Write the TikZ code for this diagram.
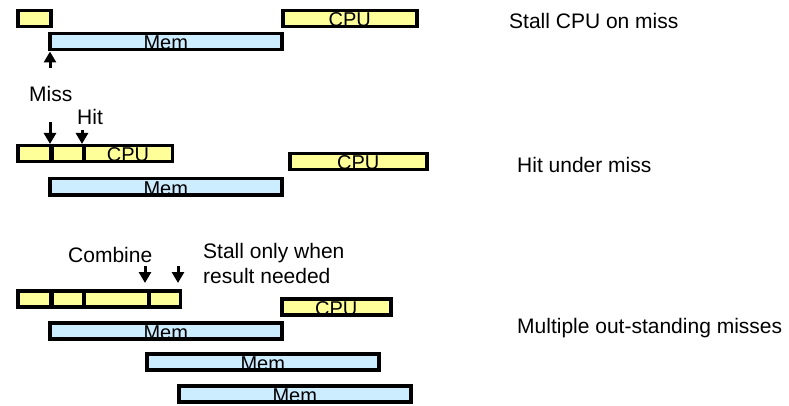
\documentclass[tikz,border=0pt]{standalone}
\usepackage{fontspec}
\setmainfont{Liberation Sans}
\usetikzlibrary{arrows.meta}
\definecolor{cpuyellow}{HTML}{FFFF99}
\definecolor{memblue}{HTML}{CCECFF}
\tikzset{
  seg/.style={draw=black, line width=3.5pt, inner sep=0pt, anchor=north west,
              minimum height=16pt},
  cpu/.style={seg, fill=cpuyellow},
  mem/.style={seg, fill=memblue},
  boxtext/.style={anchor=base, inner sep=0pt, font=\fontsize{20}{24}\selectfont},
  note/.style={anchor=base west, inner sep=0pt, font=\fontsize{21}{25}\selectfont, align=left},
  arr/.style={line width=3pt, -{Triangle[length=11pt,width=12pt]}}
}
\begin{document}
\begin{tikzpicture}[x=1pt, y=-1pt]
\useasboundingbox (0,0) rectangle (789,406);

% ---- Stall CPU on miss ----
\node[cpu, minimum width=33pt] (ya) at (16,9) {};
\node[cpu, minimum width=134pt] (yb) at (281,9) {};
\node[boxtext] (ybt) at ([yshift=1.5pt]yb.south) {CPU};
\node[mem, minimum width=232pt] (ma) at (48,32) {};
\node[boxtext] (mat) at ([yshift=1.5pt]ma.south) {Mem};
\coordinate (upa) at (50,68);
\draw[arr] (upa) -- (upa |- ma.south);
\node[note] (l1) at (509,29) {Stall CPU on miss};

% ---- Hit under miss ----
\node[cpu, minimum width=32.5pt] (ha) at (16,144) {};
\node[cpu, minimum width=32pt] (hb) at (50,144) {};
\node[cpu, minimum width=88.5pt] (hc) at (82,144) {};
\node[boxtext] (hct) at ([yshift=1.5pt]hc.south) {CPU};
\node[cpu, minimum width=137pt] (hd) at (288,152) {};
\node[boxtext] (hdt) at ([yshift=1.5pt]hd.south) {CPU};
\node[mem, minimum width=232pt] (mb) at (48,177) {};
\node[boxtext] (mbt) at ([yshift=1.5pt]mb.south) {Mem};
\node[note] (miss) at (29,102) {Miss};
\node[note] (hit) at (77,125) {Hit};
\coordinate (missa) at (50,122);
\coordinate (hita) at (82,130);
\draw[arr] (missa) -- (missa |- ha.north);
\draw[arr] (hita) -- (hita |- hc.north);
\node[note] (l2) at (517,173) {Hit under miss};

% ---- Multiple out-standing misses ----
\node[cpu, minimum width=32.5pt] (ca) at (16,289) {};
\node[cpu, minimum width=32pt] (cb) at (50,289) {};
\node[cpu, minimum width=65pt] (cc) at (82,289) {};
\node[cpu, minimum width=31.5pt] (cd) at (147,289) {};
\node[cpu, minimum width=109pt] (ce) at (280,297) {};
\node[boxtext] (cet) at ([yshift=1.5pt]ce.south) {CPU};
\node[mem, minimum width=232pt] (mc) at (48,321) {};
\node[boxtext] (mct) at ([yshift=1.5pt]mc.south) {Mem};
\node[mem, minimum width=232pt] (md) at (145,352) {};
\node[boxtext] (mdt) at ([yshift=1.5pt]md.south) {Mem};
\node[mem, minimum width=232pt] (me) at (177,384) {};
\node[boxtext] (met) at ([yshift=1.5pt]me.south) {Mem};
\node[note] (comb) at (68,262) {Combine};
\node[note] (stall) at (203,283) {Stall only when\\result needed};
\coordinate (ca1) at (145,266);
\coordinate (ca2) at (178,266);
\coordinate (cb1) at (145,283);
\coordinate (cb2) at (178,283);
\draw[arr] (ca1) -- (cb1);
\draw[arr] (ca2) -- (cb2);
\node[note] (l3) at (517,333) {Multiple out-standing misses};
\end{tikzpicture}
\end{document}
